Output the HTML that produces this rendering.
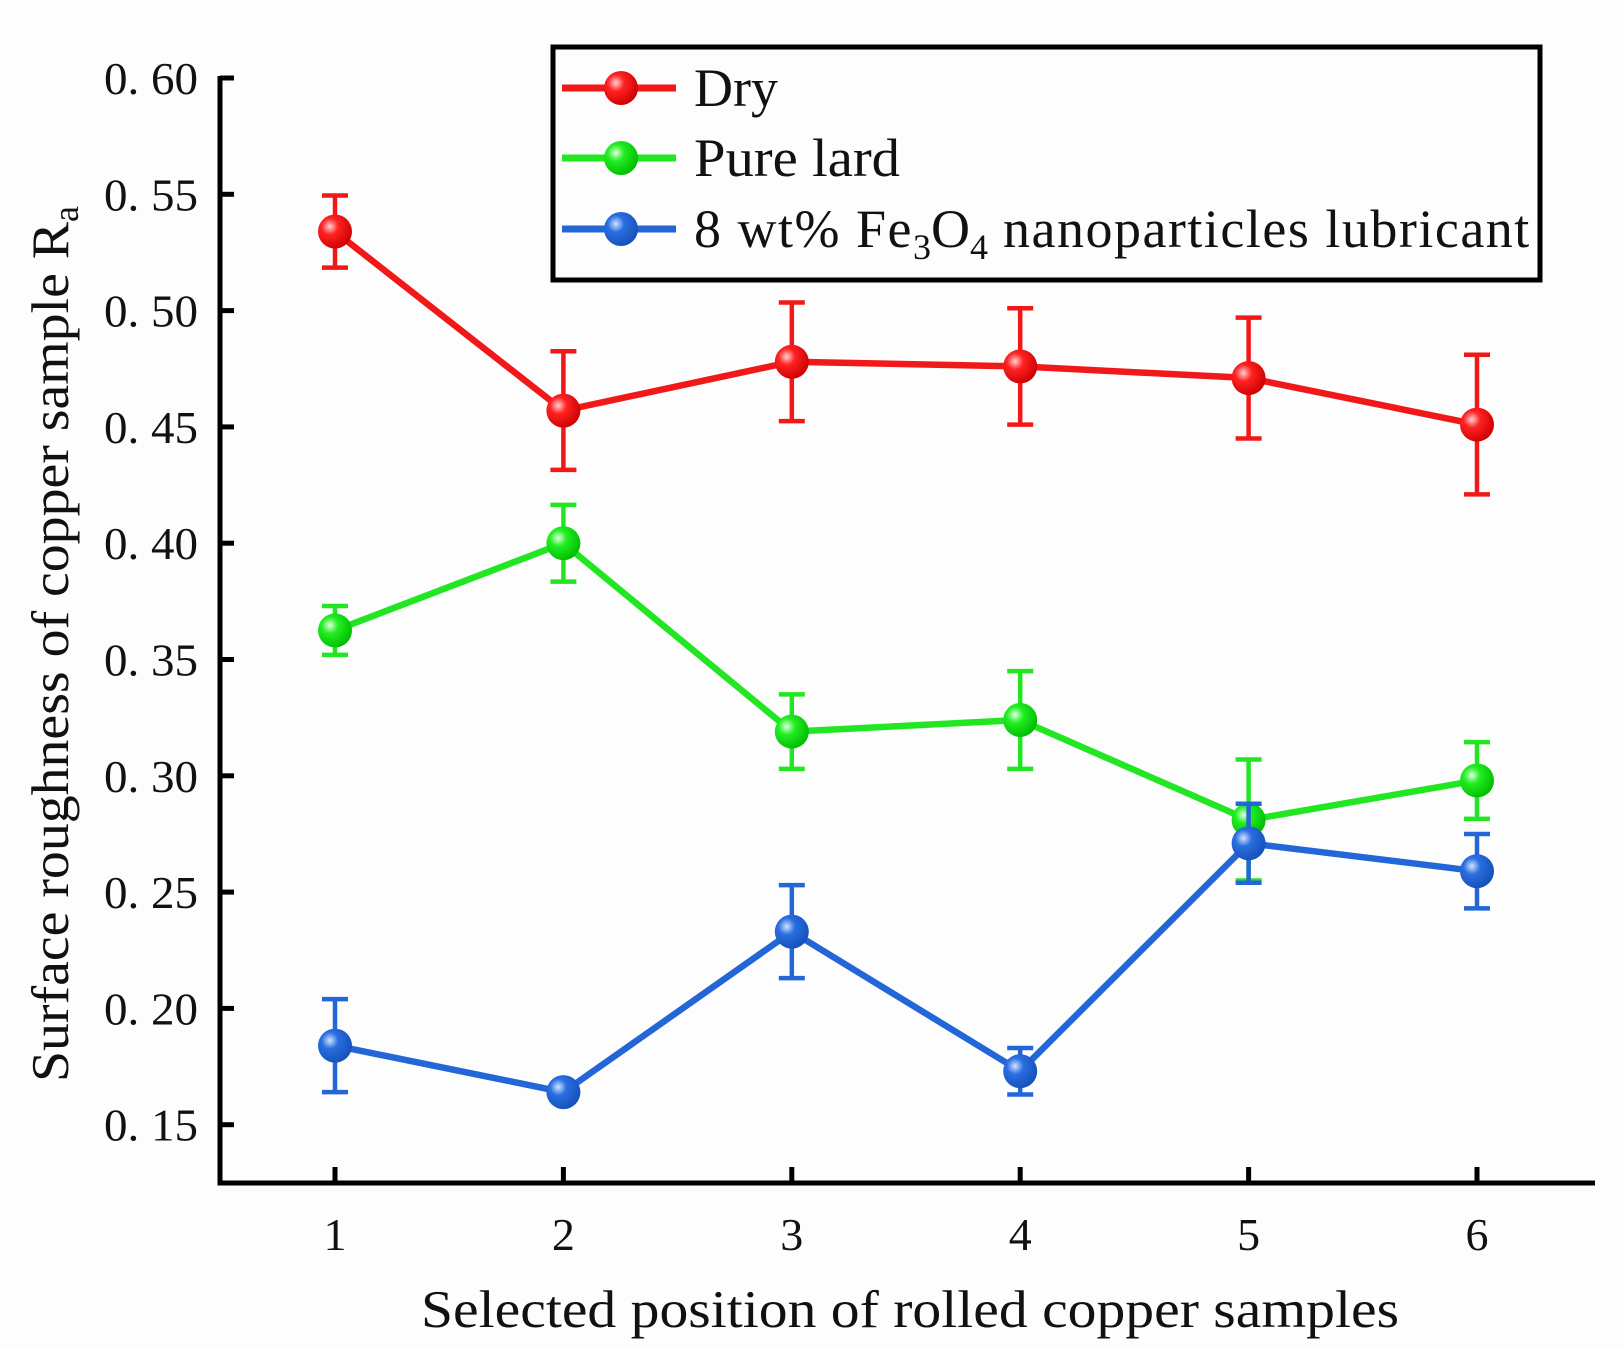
<!DOCTYPE html>
<html><head><meta charset="utf-8"><style>
html,body{margin:0;padding:0;background:#fdfdfd;}
svg{display:block;font-family:"Liberation Serif",serif;}
</style></head><body>
<svg id="chart" width="1623" height="1349" viewBox="0 0 1623 1349" xmlns="http://www.w3.org/2000/svg">
<defs>
<radialGradient id="gr" cx="0.35" cy="0.35" r="0.7"><stop offset="0" stop-color="#ffd0d0"/><stop offset="0.35" stop-color="#f22"/><stop offset="1" stop-color="#c00"/></radialGradient>
<radialGradient id="gg" cx="0.35" cy="0.35" r="0.7"><stop offset="0" stop-color="#e0ffe0"/><stop offset="0.35" stop-color="#2e2"/><stop offset="1" stop-color="#0b0"/></radialGradient>
<radialGradient id="gb" cx="0.35" cy="0.35" r="0.7"><stop offset="0" stop-color="#d0e4ff"/><stop offset="0.35" stop-color="#2a6ee0"/><stop offset="1" stop-color="#1450b8"/></radialGradient>
</defs>
</svg>
<script>
const categories=[1,2,3,4,5,6];
const yTicks=[0.15,0.20,0.25,0.30,0.35,0.40,0.45,0.50,0.55,0.60];
const yTickLabels=["0. 15","0. 20","0. 25","0. 30","0. 35","0. 40","0. 45","0. 50","0. 55","0. 60"];
const dryValues=[0.534,0.457,0.478,0.476,0.471,0.451];
const dryErrors=[0.0155,0.0255,0.0255,0.025,0.026,0.030];
const lardValues=[0.3625,0.400,0.319,0.324,0.281,0.298];
const lardErrors=[0.0105,0.0165,0.016,0.021,0.026,0.0165];
const fe3o4Values=[0.184,0.164,0.233,0.173,0.271,0.259];
const fe3o4Errors=[0.020,0.003,0.020,0.010,0.017,0.016];

const svg=document.getElementById('chart');
const NS='http://www.w3.org/2000/svg';
const X0=220, X1=1595, Ytop=76, Ybot=1183;
function xs(c){return 335+(c-1)*228.4;}
function ys(v){return 78+(0.60-v)/0.05*116.3;}
function mk(tag,attrs,parent){const e=document.createElementNS(NS,tag);for(const k in attrs)e.setAttribute(k,attrs[k]);(parent||svg).appendChild(e);return e;}

let a=mk('path',{d:`M${X0} ${Ytop} V${Ybot} H${X1}`,fill:'none',stroke:'#000','stroke-width':5});


yTicks.forEach((t,i)=>{
  const y=ys(t);
  const tk=mk('line',{x1:X0,x2:X0+14,y1:y,y2:y,stroke:'#000','stroke-width':5});
  
  
  const tl=mk('text',{x:104,y:y+16,'font-size':46,fill:'#111',textLength:94,lengthAdjust:'spacingAndGlyphs'});
  tl.textContent=yTickLabels[i];
  
  
});
categories.forEach(c=>{
  const x=xs(c);
  const tk=mk('line',{x1:x,x2:x,y1:Ybot,y2:Ybot-16,stroke:'#000','stroke-width':5});
  
  
  const tl=mk('text',{x:x,y:1250,'text-anchor':'middle','font-size':46,fill:'#111'});
  tl.textContent=String(c);
  
  
});
let xt=mk('text',{x:421,y:1327,'font-size':53,fill:'#111',textLength:978,lengthAdjust:'spacingAndGlyphs'});
xt.textContent='Selected position of rolled copper samples';


let yt=mk('text',{x:0,y:0,'font-size':53,fill:'#111',transform:'translate(68,1082) rotate(-90)'});
yt.innerHTML='<tspan textLength="860" lengthAdjust="spacingAndGlyphs">Surface roughness of copper sample R</tspan><tspan font-size="36" dy="10">a</tspan>';



function series(name,vals,errs,color,grad){
  const g=mk('g',{});
  
  
  vals.forEach((v,i)=>{
    const x=xs(categories[i]),yt=ys(v+errs[i]),yb=ys(v-errs[i]);
    const e=mk('path',{d:`M${x} ${yt}V${yb}M${x-13} ${yt}H${x+13}M${x-13} ${yb}H${x+13}`,stroke:color,'stroke-width':4.5,fill:'none'},g);
    
    
  });
  const l=mk('polyline',{points:vals.map((v,i)=>xs(categories[i])+','+ys(v)).join(' '),fill:'none',stroke:color,'stroke-width':6.5,'stroke-linejoin':'round'},g);
  
  
  vals.forEach((v,i)=>{
    const p=mk('circle',{cx:xs(categories[i]),cy:ys(v),r:17,fill:'url(#'+grad+')'},g);
    
    
  });
}
series('dry',dryValues,dryErrors,'#f01818','gr');
series('pure-lard',lardValues,lardErrors,'#22e622','gg');
series('fe3o4',fe3o4Values,fe3o4Errors,'#2266d8','gb');

const lg=mk('g',{});


mk('rect',{x:553,y:47,width:987,height:233,fill:'#fdfdfd',stroke:'#000','stroke-width':5},lg);
const entries=[['<tspan textLength="84" lengthAdjust="spacingAndGlyphs">Dry</tspan>','#f01818','gr',88],['<tspan textLength="206" lengthAdjust="spacingAndGlyphs">Pure lard</tspan>','#22e622','gg',158],['<tspan letter-spacing="1.5">8 wt% Fe</tspan><tspan font-size="36" dy="12">3</tspan><tspan dy="-12">O</tspan><tspan font-size="36" dy="12">4</tspan><tspan dy="-12" letter-spacing="1.5"> nanoparticles lubricant</tspan>','#2266d8','gb',229]];
entries.forEach(en=>{
  const eg=mk('g',{},lg);
  
  
  mk('line',{x1:562,x2:676,y1:en[3],y2:en[3],stroke:en[1],'stroke-width':7},eg);
  mk('circle',{cx:621,cy:en[3],r:17,fill:'url(#'+en[2]+')'},eg);
  const t=mk('text',{x:694,y:en[3]+18,'font-size':54,fill:'#111'},eg);
  t.innerHTML=en[0];
});
</script>
</body></html>
